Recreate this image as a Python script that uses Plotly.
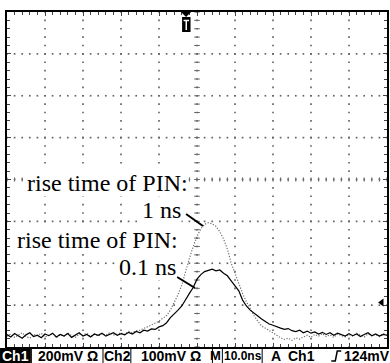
import plotly.graph_objects as go
import numpy as np

# ---------------- data ----------------
time_ns = list(range(-50, 51))  # 10 ns/div, 10 divisions

# rise time of PIN: 1 ns  (dotted trace), vertical divisions
pin_1ns = [
    -3.74, -3.69, -3.77, -3.71, -3.66, -3.75, -3.79, -3.70, -3.73, -3.67,
    -3.76, -3.72, -3.68, -3.78, -3.70, -3.74, -3.66, -3.73, -3.77, -3.69,
    -3.72, -3.67, -3.75, -3.70, -3.74, -3.68, -3.72, -3.66, -3.71, -3.69,
    -3.66, -3.70, -3.63, -3.66, -3.61, -3.60, -3.56, -3.52, -3.47, -3.43,
    -3.38, -3.32, -3.25, -3.12, -2.95, -2.75, -2.52, -2.18, -1.88, -1.60,
    -1.36, -1.18, -1.07, -1.03, -1.06, -1.12, -1.25, -1.42, -1.66, -2.00,
    -2.25, -2.48, -2.72, -2.92, -3.10, -3.25, -3.38, -3.50, -3.55, -3.60,
    -3.66,
    -3.72, -3.78, -3.82, -3.79, -3.84, -3.78, -3.81, -3.76, -3.72, -3.77,
    -3.70, -3.74, -3.68, -3.75, -3.71, -3.77, -3.69, -3.73, -3.76, -3.70,
    -3.74, -3.67, -3.72, -3.76, -3.69, -3.73, -3.70, -3.75, -3.68, -3.72,
]

# rise time of PIN: 0.1 ns (solid trace)
pin_01ns = [
    -3.70, -3.76, -3.68, -3.74, -3.79, -3.71, -3.66, -3.75, -3.72, -3.78,
    -3.69, -3.73, -3.67, -3.76, -3.70, -3.74, -3.68, -3.77, -3.71, -3.66,
    -3.74, -3.70, -3.76, -3.69, -3.72, -3.67, -3.74, -3.70, -3.66, -3.72,
    -3.68, -3.71, -3.65, -3.69, -3.63, -3.66, -3.60, -3.62, -3.57, -3.58,
    -3.52, -3.49, -3.42, -3.30, -3.22, -3.12, -3.02, -2.86, -2.72, -2.58,
    -2.38, -2.27, -2.20, -2.17, -2.14, -2.18, -2.16, -2.24, -2.30, -2.42,
    -2.55, -2.66, -2.88, -3.02, -3.12, -3.20, -3.26, -3.33, -3.40, -3.45,
    -3.48,
    -3.52, -3.55, -3.58, -3.56, -3.61, -3.63, -3.60, -3.66, -3.62, -3.67,
    -3.64, -3.69, -3.65, -3.70, -3.66, -3.72, -3.67, -3.71, -3.74, -3.68,
    -3.73, -3.69, -3.75, -3.70, -3.66, -3.73, -3.69, -3.74, -3.70, -3.72,
]

label_1 = "rise time of PIN:"
label_1b = "1 ns"
label_2 = "rise time of PIN:"
label_2b = "0.1 ns"

status_texts = ["200mV \u03a9", "Ch2", "100mV \u03a9", "M", "10.0ns", "A", "Ch1", "124mV"]

# ---------------- layout helpers ----------------
W, H = 390, 363
L, R, T, B = 7, 1, 12, 16
PW = W - L - R
PH = H - T - B


def px(x):
    return (x - L) / PW


def py(y):
    return (H - B - y) / PH


fig = go.Figure()

# graticule dots
gx, gy = [], []
for xv in np.arange(-40, 41, 10):
    for yv in np.arange(-4, 4.001, 0.2):
        gx.append(xv); gy.append(yv)
for yv in np.arange(-3, 4, 1):
    for xv in np.arange(-50, 50.001, 2):
        gx.append(xv); gy.append(yv)
fig.add_trace(go.Scatter(x=gx, y=gy, mode="markers", hoverinfo="skip",
                         marker=dict(symbol="square", size=1.7, color="#666"),
                         showlegend=False))
# centre-line tick marks
cy = list(np.arange(-4, 4.001, 0.2))
fig.add_trace(go.Scatter(x=[0] * len(cy), y=cy, mode="markers", hoverinfo="skip",
                         marker=dict(symbol="line-ew", size=4,
                                     line=dict(width=1, color="#666")),
                         showlegend=False))
cx = list(np.arange(-50, 50.001, 2))
fig.add_trace(go.Scatter(x=cx, y=[0] * len(cx), mode="markers", hoverinfo="skip",
                         marker=dict(symbol="line-ns", size=3,
                                     line=dict(width=1, color="#666")),
                         showlegend=False))

# traces
fig.add_trace(go.Scatter(x=time_ns, y=pin_1ns, mode="lines", name="1 ns",
                         line=dict(color="#6e6e6e", width=1.2, dash="1.2px,1.6px"),
                         showlegend=False))
fig.add_trace(go.Scatter(x=time_ns, y=pin_01ns, mode="lines", name="0.1 ns",
                         line=dict(color="black", width=1.2),
                         showlegend=False))

axis_common = dict(showgrid=False, zeroline=False, showline=True, linecolor="black",
                   linewidth=2, mirror="ticks", ticks="inside", ticklen=4,
                   tickcolor="#444", tickwidth=1, showticklabels=False, fixedrange=True)

fig.update_xaxes(range=[-50, 50], dtick=10, tick0=0,
                 minor=dict(ticks="inside", dtick=2, ticklen=3, tickcolor="#444", showgrid=False),
                 **axis_common)
fig.update_yaxes(range=[-4, 4], dtick=1, tick0=0,
                 minor=dict(ticks="inside", dtick=0.2, ticklen=3, tickcolor="#444", showgrid=False),
                 **axis_common)

serif = dict(family="Liberation Serif", size=24, color="black")
ann = []
for txt, xr, ym in [(label_1, 190, 183), (label_1b, 183, 210),
                    (label_2, 180, 240), (label_2b, 178, 267)]:
    ann.append(dict(text=txt, x=px(xr), y=py(ym), xref="paper", yref="paper",
                    xanchor="right", yanchor="middle", showarrow=False,
                    font=serif, bgcolor="white", borderpad=0))

ymid = py(355.5)
ann.append(dict(text="Ch1", x=px(15.5), y=ymid, xref="paper", yref="paper",
                xanchor="center", yanchor="middle", showarrow=False,
                font=dict(family="Liberation Sans", size=14, color="white", weight="bold")))
for txt, xc, fs in zip(status_texts, [68, 118, 172, 216.5, 244, 277, 303, 369],
                       [14, 14, 14, 13, 12, 14, 14, 14]):
    ann.append(dict(text=txt, x=px(xc), y=ymid, xref="paper", yref="paper",
                    xanchor="center", yanchor="middle", showarrow=False,
                    font=dict(family="Liberation Sans", size=fs, color="black", weight="bold")))

shapes = []
# pointer lines
for (x0, y0, x1, y1) in [(187, 214, 204, 226), (178, 277, 196, 288)]:
    shapes.append(dict(type="line", xref="paper", yref="paper",
                       x0=px(x0), y0=py(y0), x1=px(x1), y1=py(y1),
                       line=dict(color="black", width=2)))
# status bar boxes
shapes.append(dict(type="rect", xref="paper", yref="paper", x0=px(0), x1=px(31),
                   y0=py(348), y1=py(363), fillcolor="black", line=dict(width=0)))
for x0, x1 in [(31.5, 103.5), (131.5, 213.5), (223.5, 263.5)]:
    shapes.append(dict(type="rect", xref="paper", yref="paper", x0=px(x0), x1=px(x1),
                       y0=py(348.5), y1=py(363.5), line=dict(color="black", width=1)))
# trigger slope symbol
shapes.append(dict(type="path", xref="paper", yref="paper",
                   path=f"M {px(333)},{py(361)} L {px(337)},{py(361)} L {px(339)},{py(351)} L {px(343)},{py(351)}",
                   line=dict(color="black", width=1.5)))
# trigger position marker (T)
shapes.append(dict(type="path", xref="paper", yref="paper",
                   path=f"M {px(182)},{py(12)} L {px(192)},{py(12)} L {px(187)},{py(17)} Z",
                   fillcolor="black", line=dict(width=0)))
shapes.append(dict(type="rect", xref="paper", yref="paper", x0=px(183), x1=px(191.5),
                   y0=py(17), y1=py(32), fillcolor="black", line=dict(width=0)))
shapes.append(dict(type="line", xref="paper", yref="paper", x0=px(184.5), x1=px(190),
                   y0=py(20.5), y1=py(20.5), line=dict(color="white", width=1.5)))
shapes.append(dict(type="line", xref="paper", yref="paper", x0=px(187.2), x1=px(187.2),
                   y0=py(20.5), y1=py(30), line=dict(color="white", width=1.5)))
# trigger level marker
shapes.append(dict(type="path", xref="paper", yref="paper",
                   path=f"M {px(380)},{py(302.5)} L {px(385.5)},{py(298.5)} L {px(385.5)},{py(306.5)} Z",
                   fillcolor="black", line=dict(width=0)))

fig.update_layout(width=W, height=H, margin=dict(l=L, r=R, t=T, b=B),
                  paper_bgcolor="white", plot_bgcolor="white",
                  annotations=ann, shapes=shapes, showlegend=False)

fig.write_html("out.html")
